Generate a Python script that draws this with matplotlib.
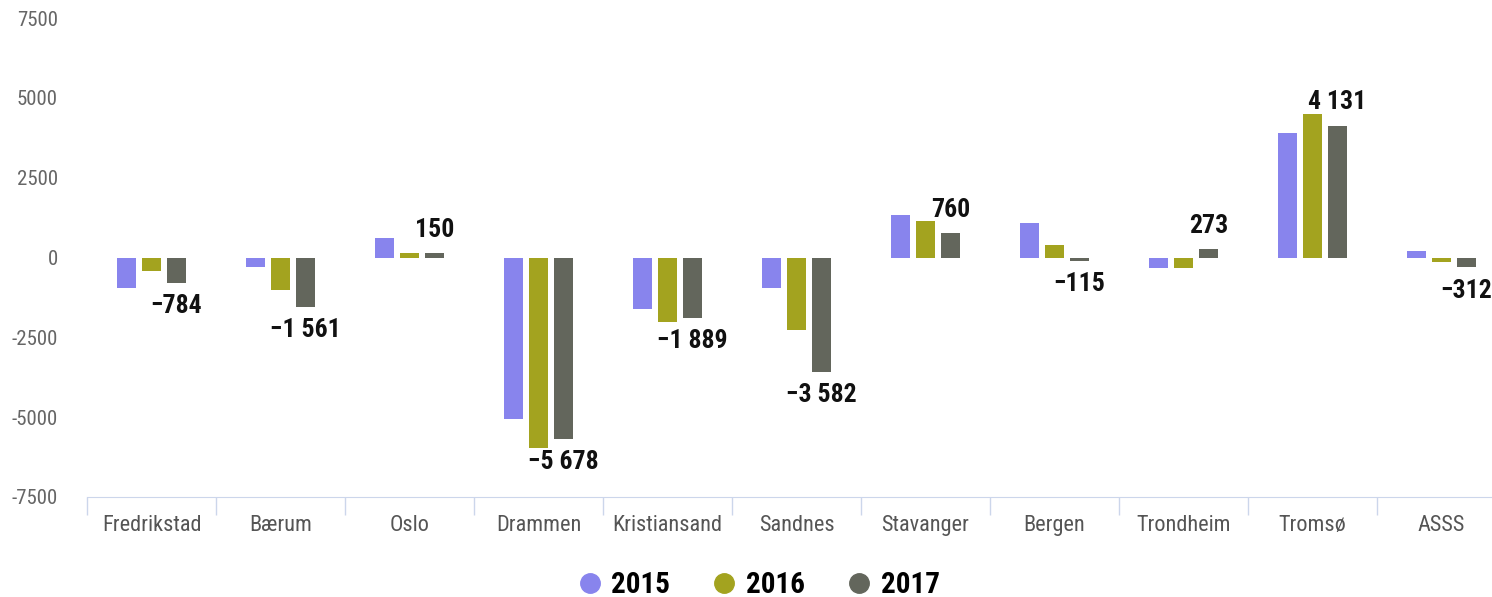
import numpy as np
import matplotlib.pyplot as plt
from matplotlib.lines import Line2D

cities = ['Fredrikstad', 'Bærum', 'Oslo', 'Drammen', 'Kristiansand', 'Sandnes',
          'Stavanger', 'Bergen', 'Trondheim', 'Tromsø', 'ASSS']
years = ['2015', '2016', '2017']
v2015 = [-960, -290, 600, -5060, -1610, -950, 1330, 1090, -330, 3900, 200]
v2016 = [-430, -1010, 130, -5970, -2030, -2260, 1150, 390, -330, 4500, -140]
v2017 = [-784, -1561, 150, -5678, -1889, -3582, 760, -115, 273, 4131, -312]
colors = ['#8884ed', '#a3a31f', '#63665c']

font = ['Roboto Condensed', 'Roboto', 'DejaVu Sans']
plt.rcParams['font.family'] = font


def fmt(v):
    s = f'{abs(v):,}'.replace(',', ' ')
    return ('\u2212' if v < 0 else '') + s


fig = plt.figure(figsize=(14.92, 5.97), dpi=100)
ax = fig.add_axes([87 / 1492, 100 / 597, 1419 / 1492, 479 / 597])

x = np.arange(len(cities))
w = 0.147
step = 0.194
for i, vals in enumerate([v2015, v2016, v2017]):
    ax.bar(x + (i - 1) * step, vals, width=w, color=colors[i], zorder=2)

for xi, v in zip(x, v2017):
    off = 8 if v >= 0 else -8
    ax.annotate(fmt(v), (xi + step, v), xytext=(0, off), textcoords='offset points',
                ha='center', va='bottom' if v >= 0 else 'top',
                fontsize=18.5, fontweight='bold', color='#111111')

ax.set_xlim(-0.5, 10.5)
ax.set_ylim(-7500, 7500)
ax.set_yticks([-7500, -5000, -2500, 0, 2500, 5000, 7500])
ax.set_yticklabels(['-7500', '-5000', '-2500', '0', '2500', '5000', '7500'])
ax.tick_params(axis='y', length=0, pad=21, labelsize=15, labelcolor='#666666')
ax.set_xticks(x)
ax.set_xticklabels(cities)
ax.set_xticks(np.arange(-0.5, 11, 1), minor=True)
ax.tick_params(axis='x', which='major', length=0, pad=13, labelsize=16, labelcolor='#555555')
ax.tick_params(axis='x', which='minor', length=13, width=1, color='#ccd6eb')

for s in ['top', 'right', 'left']:
    ax.spines[s].set_visible(False)
ax.spines['bottom'].set_color('#ccd6eb')

handles = [Line2D([], [], marker='o', linestyle='', markersize=14,
                  markerfacecolor=c, markeredgecolor=c) for c in colors]
fig.legend(handles, years, loc='center', bbox_to_anchor=(759 / 1492, 1 - 585 / 597),
           ncol=3, frameon=False, handlelength=0.8, handletextpad=0.35,
           columnspacing=1.45, borderpad=0.1,
           prop={'family': font, 'weight': 'bold', 'size': 21})

fig.savefig('out.png', dpi=100)
